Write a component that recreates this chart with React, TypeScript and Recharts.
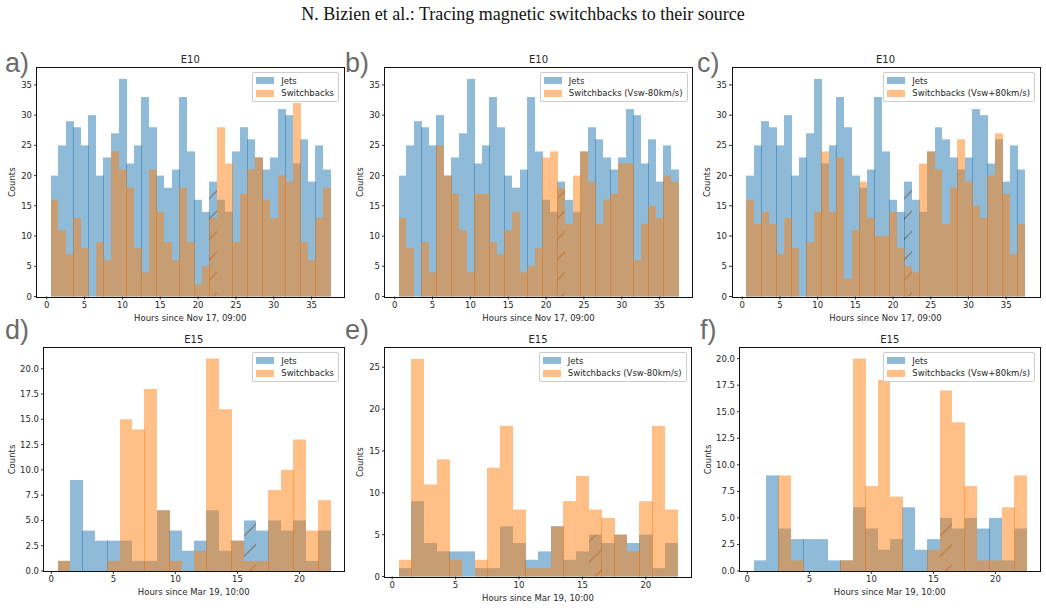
import { BarChart, Bar, XAxis, YAxis, Legend } from 'recharts'

const bins10 = [0, 1, 2, 3, 4, 5, 6, 7, 8, 9, 10, 11, 12, 13, 14, 15, 16, 17, 18, 19, 20, 21, 22, 23, 24, 25, 26, 27, 28, 29, 30, 31, 32, 33, 34, 35, 36, 37]
const bins15 = [0, 1, 2, 3, 4, 5, 6, 7, 8, 9, 10, 11, 12, 13, 14, 15, 16, 17, 18, 19, 20, 21, 22]

const jets10 = [0, 20, 25, 29, 28, 25, 30, 20, 23, 27, 36, 22, 25, 33, 28, 20, 18, 21, 33, 24, 16, 14, 19, 16, 14, 24, 28, 26, 23, 21, 23, 31, 30, 22, 26, 19, 25, 21]
const sbA = [0, 16, 11, 7, 13, 8, 0, 9, 6, 24, 21, 18, 8, 4, 21, 14, 9, 6, 18, 9, 2, 5, 13, 28, 22, 9, 17, 21, 23, 16, 13, 20, 19, 32, 9, 6, 13, 18]
const sbB = [0, 13, 8, 0, 9, 4, 25, 20, 17, 11, 4, 17, 17, 9, 7, 11, 14, 4, 5, 8, 23, 24, 18, 12, 20, 24, 19, 12, 16, 17, 22, 22, 6, 12, 15, 13, 20, 19]
const sbC = [0, 16, 12, 14, 12, 7, 13, 8, 0, 9, 14, 24, 14, 23, 3, 11, 19, 13, 10, 10, 14, 8, 5, 4, 22, 24, 21, 12, 18, 26, 19, 15, 13, 20, 27, 17, 7, 12]

const jets15 = [0, 1, 9, 4, 3, 3, 3, 1, 1, 6, 4, 2, 3, 6, 2, 3, 5, 4, 5, 4, 5, 1, 4]
const sbD = [0, 1, 0, 0, 0, 1, 15, 14, 18, 6, 1, 0, 2, 21, 16, 3, 1, 1, 8, 10, 13, 4, 7]
const sbE = [0, 2, 26, 11, 14, 2, 0, 2, 13, 18, 8, 1, 1, 6, 9, 12, 8, 7, 5, 3, 9, 18, 8]
const sbF = [0, 0, 0, 9, 1, 0, 0, 0, 1, 20, 8, 18, 7, 0, 0, 2, 17, 14, 8, 1, 1, 6, 9]

const xTicks10 = [0, 5, 10, 15, 20, 25, 30, 35]
const xTicks15 = [0, 5, 10, 15, 20]
const yTicksE10 = [0, 5, 10, 15, 20, 25, 30, 35]
const yTicksE15 = [0, 2.5, 5, 7.5, 10, 12.5, 15, 17.5, 20]
const yTicksE = [0, 5, 10, 15, 20, 25]

const BLUE = '#1f77b4'
const ORANGE = '#ff7f0e'
const HATCH_STEP = 20.4
const TEXT = '#262626'
const AXIS_FONT = 8.5

type PanelProps = {
  id: string
  letter: string
  letterX: number
  letterY: number
  title: string
  xLabel: string
  bins: number[]
  jets: number[]
  switchbacks: number[]
  sbName: string
  xTicks: number[]
  yTicks: number[]
  yMax: number
  yFixed: number
  hatchBin: number
  left: number
  right: number
  top: number
  bottom: number
  barStart: number
  barEnd: number
  yGap: number
}

function Panel(p: PanelProps) {
  const padL = 40
  const padT = 20
  const padB = 30
  const plotW = p.right - p.left
  const plotH = p.bottom - p.top
  const unit = (p.barEnd - p.barStart) / (p.bins.length - 1)
  const rows = p.bins.map((bin, i) => ({ bin, jets: p.jets[i], sb: p.switchbacks[i] }))
  const hatchLeft = padL + (p.barStart - p.left) + (p.hatchBin - 0.5) * unit
  const hatchPhase = (hatchLeft + padT + plotH) % HATCH_STEP
  const xPadding = { left: p.barStart - p.left - unit, right: p.right - p.barEnd }

  // adjacent bars overlap by a pixel on some edges, as in the matplotlib output
  const snapped = (fill: string, hatched: boolean) => (s: any) => {
    if (!s.height || s.height <= 0) return <g />
    const x0 = Math.round(s.x)
    const x1 = Math.round(s.x + s.width + 0.42)
    const isHatch = hatched && s.payload.bin === p.hatchBin
    return (
      <rect
        x={x0}
        y={s.y}
        width={x1 - x0}
        height={s.height}
        fill={isHatch ? `url(#hatch-${p.id})` : fill}
        fillOpacity={0.5}
      />
    )
  }

  return (
    <>
      <div
        style={{
          position: 'absolute',
          left: p.letterX,
          top: p.letterY,
          fontFamily: 'Liberation Sans',
          fontSize: 27,
          lineHeight: '30px',
          color: '#6b6b6b',
        }}
      >
        {p.letter}
      </div>
      <div style={{ position: 'absolute', left: p.left - padL, top: p.top - padT }}>
        <BarChart
          width={plotW + padL + 4}
          height={plotH + padT + padB}
          data={rows}
          margin={{ top: padT, right: 4, bottom: 0, left: 0 }}
          barCategoryGap={0}
          barSize={unit - 0.001}
        >
          <defs>
            <pattern
              id={`hatch-${p.id}`}
              patternUnits="userSpaceOnUse"
              width={HATCH_STEP}
              height={HATCH_STEP}
              patternTransform={`translate(${hatchPhase} 0)`}
            >
              <rect width={HATCH_STEP} height={HATCH_STEP} fill={BLUE} />
              <path d={`M0,${HATCH_STEP} L${HATCH_STEP},0 M-2,2 L2,-2 M${HATCH_STEP - 2},${HATCH_STEP + 2} L${HATCH_STEP + 2},${HATCH_STEP - 2}`} stroke="#000" strokeWidth={1.4} />
            </pattern>
          </defs>
          <text
            x={padL + plotW / 2}
            y={padT - 5}
            textAnchor="middle"
            fontFamily="DejaVu Sans"
            fontSize={10}
            fill={TEXT}
          >
            {p.title}
          </text>
          <XAxis
            dataKey="bin"
            ticks={p.xTicks}
            interval={0}
            height={padB}
            padding={xPadding}
            axisLine={false}
            tickLine={{ stroke: '#000', strokeWidth: 0.8 }}
            tickSize={3}
            tickMargin={2}
            tick={{ fontFamily: 'DejaVu Sans', fontSize: AXIS_FONT, fill: TEXT }}
            label={{
              value: p.xLabel,
              position: 'insideBottom',
              offset: 6,
              style: { fontFamily: 'DejaVu Sans', fontSize: AXIS_FONT, fill: TEXT },
            }}
          />
          <XAxis xAxisId="sb" dataKey="bin" hide padding={xPadding} />
          <YAxis
            type="number"
            domain={[0, p.yMax]}
            ticks={p.yTicks}
            interval={0}
            width={padL}
            axisLine={false}
            tickLine={{ stroke: '#000', strokeWidth: 0.8 }}
            tickSize={3}
            tickMargin={2}
            tickFormatter={(v: number) => v.toFixed(p.yFixed)}
            tick={{ fontFamily: 'DejaVu Sans', fontSize: AXIS_FONT, fill: TEXT }}
            label={{
              value: 'Counts',
              position: 'center',
              angle: -90,
              dx: padL / 2 - p.yGap,
              style: { fontFamily: 'DejaVu Sans', fontSize: AXIS_FONT, fill: TEXT },
            }}
          />
          <Legend
            layout="vertical"
            align="center"
            verticalAlign="middle"
            wrapperStyle={{ left: 'auto', right: 8, top: padT + 4, bottom: 'auto', width: 'auto' }}
            content={(c: any) => (
              <div
                style={{
                  background: 'rgba(255,255,255,0.8)',
                  border: '1px solid #ccc',
                  borderRadius: 2,
                  padding: '2px 4px 1px 3px',
                  fontFamily: 'DejaVu Sans',
                  fontSize: AXIS_FONT,
                  color: TEXT,
                }}
              >
                {c.payload.map((e: any) => (
                  <div key={e.value} style={{ display: 'flex', alignItems: 'center', height: 12.5, whiteSpace: 'nowrap' }}>
                    <span style={{ width: 18, height: 7, marginRight: 7, background: e.color, opacity: 0.5 }} />
                    {e.value}
                  </div>
                ))}
              </div>
            )}
          />
          <Bar dataKey="jets" name="Jets" fill={BLUE} isAnimationActive={false} shape={snapped(BLUE, true)} />
          <Bar dataKey="sb" xAxisId="sb" name={p.sbName} fill={ORANGE} isAnimationActive={false} shape={snapped(ORANGE, false)} />
        </BarChart>
      </div>
      <div
        style={{
          position: 'absolute',
          left: p.left - 0.5,
          top: p.top - 0.5,
          width: plotW,
          height: plotH,
          border: '1px solid #111',
          pointerEvents: 'none',
        }}
      />
    </>
  )
}

const SHARED10 = { title: 'E10', xLabel: 'Hours since Nov 17, 09:00', bins: bins10, jets: jets10, xTicks: xTicks10, yTicks: yTicksE10, yMax: 37.8, yFixed: 0, hatchBin: 22, top: 67.5, bottom: 296 }
const SHARED15 = { title: 'E15', xLabel: 'Hours since Mar 19, 10:00', bins: bins15, jets: jets15, xTicks: xTicks15, hatchBin: 16, top: 347.5 }

export default function App() {
  return (
    <div style={{ position: 'absolute', left: 0, top: 0, width: 1046, height: 608, overflow: 'hidden', background: '#fff' }}>
      <div
        style={{
          position: 'absolute',
          left: 0,
          top: 4,
          width: 1046,
          textAlign: 'center',
          fontFamily: 'Liberation Serif',
          fontSize: 18,
          color: '#111',
        }}
      >
        N. Bizien et al.: Tracing magnetic switchbacks to their source
      </div>
      <Panel {...SHARED10} id="a" letter="a)" letterX={5} letterY={48} switchbacks={sbA} sbName="Switchbacks" left={36.5} right={343} barStart={50} barEnd={330} yGap={25} />
      <Panel {...SHARED10} id="b" letter="b)" letterX={345} letterY={48} switchbacks={sbB} sbName="Switchbacks (Vsw-80km/s)" left={384.5} right={691.5} barStart={398} barEnd={678} yGap={25} />
      <Panel {...SHARED10} id="c" letter="c)" letterX={697} letterY={48} switchbacks={sbC} sbName="Switchbacks (Vsw+80km/s)" left={732} right={1039} barStart={746} barEnd={1025} yGap={25} />
      <Panel {...SHARED15} id="d" letter="d)" letterX={5} letterY={315} switchbacks={sbD} sbName="Switchbacks" yTicks={yTicksE15} yMax={22.05} yFixed={1} left={43.5} right={343} bottom={570.5} barStart={57} barEnd={330} yGap={32} />
      <Panel {...SHARED15} id="e" letter="e)" letterX={345} letterY={315} switchbacks={sbE} sbName="Switchbacks (Vsw-80km/s)" yTicks={yTicksE} yMax={27.3} yFixed={0} left={384.5} right={690.5} bottom={576} barStart={398} barEnd={677} yGap={25} />
      <Panel {...SHARED15} id="f" letter="f)" letterX={700} letterY={315} switchbacks={sbF} sbName="Switchbacks (Vsw+80km/s)" yTicks={yTicksE15} yMax={21} yFixed={1} left={739.5} right={1039} bottom={570.5} barStart={753} barEnd={1026} yGap={32} />
    </div>
  )
}
